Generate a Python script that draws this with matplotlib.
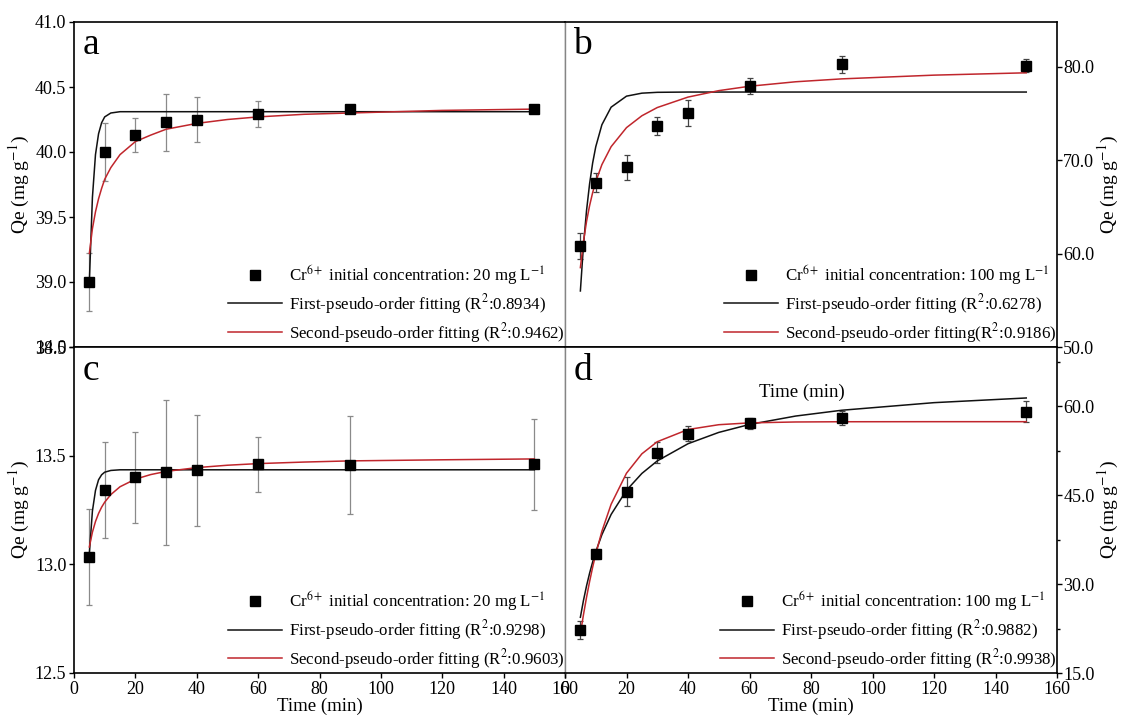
"""
Cr6+ adsorption kinetics: four panels (a-d), pseudo first/second order fits
"""

import matplotlib.pyplot as plt
from matplotlib.lines import Line2D
import numpy as np

plt.rcParams["font.family"] = ["Liberation Serif", "DejaVu Serif"]
plt.rcParams["mathtext.fontset"] = "stix"

# ── data ──────────────────────────────────────────────
TIME = [5, 10, 20, 30, 40, 60, 90, 150]

QE_A = [39.00, 40.00, 40.13, 40.23, 40.25, 40.29, 40.33, 40.33]
ERR_A = [0.22, 0.22, 0.13, 0.22, 0.17, 0.10, 0.02, 0.03]
QE_B = [60.85, 67.58, 69.25, 73.67, 75.05, 77.94, 80.28, 80.14]
ERR_B = [1.40, 1.00, 1.35, 1.00, 1.40, 0.85, 0.90, 0.65]
QE_C = [13.034, 13.343, 13.400, 13.423, 13.432, 13.460, 13.457, 13.460]
ERR_C = [0.22, 0.22, 0.21, 0.335, 0.255, 0.127, 0.225, 0.21]
QE_D = [22.2, 35.1, 45.6, 52.2, 55.4, 57.1, 58.0, 59.1]
ERR_D = [1.5, 0.9, 2.5, 1.7, 1.2, 1.0, 1.2, 1.8]

# fitted curves
FIT_T = [5, 6, 7, 8, 9, 10, 12, 15, 20, 25, 30, 40, 50, 60, 75, 90, 120, 150]
FIT1_A = [39.00, 39.65, 39.98, 40.14, 40.225, 40.27, 40.30, 40.31, 40.31, 40.31,
          40.31, 40.31, 40.31, 40.31, 40.31, 40.31, 40.31, 40.31]
FIT2_A = [39.22, 39.41, 39.54, 39.64, 39.72, 39.79, 39.88, 39.98, 40.08, 40.13,
          40.175, 40.22, 40.25, 40.27, 40.29, 40.30, 40.32, 40.33]
FIT1_B = [56.0, 60.86, 64.6, 67.48, 69.72, 71.44, 73.8, 75.68, 76.86, 77.18,
          77.27, 77.3, 77.3, 77.3, 77.3, 77.3, 77.3, 77.3]
FIT2_B = [58.5, 61.28, 63.43, 65.14, 66.54, 67.7, 69.53, 71.45, 73.49, 74.76,
          75.64, 76.76, 77.45, 77.92, 78.40, 78.71, 79.11, 79.36]
FIT1_C = [13.05, 13.245, 13.34, 13.389, 13.412, 13.424, 13.432, 13.435, 13.435,
          13.435, 13.435, 13.435, 13.435, 13.435, 13.435, 13.435, 13.435, 13.435]
FIT2_C = [13.08, 13.148, 13.197, 13.234, 13.263, 13.286, 13.321, 13.357, 13.392,
          13.413, 13.4275, 13.445, 13.456, 13.4635, 13.4706, 13.476, 13.481, 13.485]
FIT1_D = [24.4, 27.23, 29.69, 31.84, 33.75, 35.45, 38.34, 41.75, 45.83, 48.67,
          50.78, 53.68, 55.59, 56.93, 58.35, 59.33, 60.61, 61.4]
FIT2_D = [21.6, 24.82, 27.76, 30.43, 32.86, 35.07, 38.91, 43.47, 48.71, 51.98,
          54.02, 56.08, 56.89, 57.2, 57.35, 57.39, 57.4, 57.4]

LETTERS = ["a", "b", "c", "d"]
CONC_LABELS = [r"Cr$^{6+}$ initial concentration: 20 mg L$^{-1}$",
               r"Cr$^{6+}$ initial concentration: 100 mg L$^{-1}$",
               r"Cr$^{6+}$ initial concentration: 20 mg L$^{-1}$",
               r"Cr$^{6+}$ initial concentration: 100 mg L$^{-1}$"]
FIT1_LABELS = [r"First-pseudo-order fitting (R$^{2}$:0.8934)",
               r"First-pseudo-order fitting (R$^{2}$:0.6278)",
               r"First-pseudo-order fitting (R$^{2}$:0.9298)",
               r"First-pseudo-order fitting (R$^{2}$:0.9882)"]
FIT2_LABELS = [r"Second-pseudo-order fitting (R$^{2}$:0.9462)",
               r"Second-pseudo-order fitting(R$^{2}$:0.9186)",
               r"Second-pseudo-order fitting (R$^{2}$:0.9603)",
               r"Second-pseudo-order fitting (R$^{2}$:0.9938)"]

YLABEL = r"Qe (mg g$^{-1}$)"
XLABEL = "Time (min)"

RED = "#c0262c"
BLACK = "#111111"
ERR_COLORS = ["#8a8a8a", "#444444", "#8a8a8a", "#444444"]
DIVIDER = "#858585"

# ── layout ────────────────────────────────────────────
W, H = 1121, 718
fig = plt.figure(figsize=(W / 100, H / 100), dpi=100)
xl, xm, xr = 74 / W, 565 / W, 1057 / W
yb, ym, yt = 1 - 673 / H, 1 - 347 / H, 1 - 22 / H

ax_a = fig.add_axes([xl, ym, xm - xl, yt - ym])
ax_b = fig.add_axes([xm, ym, xr - xm, yt - ym])
ax_c = fig.add_axes([xl, yb, xm - xl, ym - yb])
ax_d = fig.add_axes([xm, yb, xr - xm, ym - yb])
axes = [ax_a, ax_b, ax_c, ax_d]

panels = [
    (QE_A, ERR_A, FIT1_A, FIT2_A),
    (QE_B, ERR_B, FIT1_B, FIT2_B),
    (QE_C, ERR_C, FIT1_C, FIT2_C),
    (QE_D, ERR_D, FIT1_D, FIT2_D),
]

for i, ax in enumerate(axes):
    qe, err, f1, f2 = panels[i]
    ax.errorbar(TIME, qe, yerr=err, fmt="none", ecolor=ERR_COLORS[i],
                elinewidth=0.9, capsize=2.5, capthick=0.9, zorder=2)
    ax.plot(FIT_T, f1, color=BLACK, lw=1.1, zorder=3)
    ax.plot(FIT_T, f2, color=RED, lw=1.1, zorder=3)
    ax.plot(TIME, qe, "s", color="black", ms=6.5, zorder=4)
    ax.set_xlim(0, 160)

    handles = [
        Line2D([], [], marker="s", color="black", ls="none", ms=6.5),
        Line2D([], [], color=BLACK, lw=1.1),
        Line2D([], [], color=RED, lw=1.1),
    ]
    ax.legend(handles, [CONC_LABELS[i], FIT1_LABELS[i], FIT2_LABELS[i]],
              loc="lower right", bbox_to_anchor=(1.03, -0.04), frameon=False,
              fontsize=12.2, handlelength=3.2, handletextpad=0.4,
              labelspacing=0.28, numpoints=1)

    ax.text(0.017, 0.9, LETTERS[i], transform=ax.transAxes, fontsize=27,
            va="baseline", ha="left")

    for s in ax.spines.values():
        s.set_linewidth(1.2)
        s.set_color("black")
    ax.tick_params(direction="out", length=3.5, width=1.0, labelsize=13, pad=2)
    ax.tick_params(which="minor", direction="out", length=2.5, width=1.0)

# shared middle dividers are drawn grey
for ax in (ax_a, ax_c):
    ax.spines["right"].set_color(DIVIDER)
    ax.spines["right"].set_linewidth(1.0)
for ax in (ax_b, ax_d):
    ax.spines["left"].set_color(DIVIDER)
    ax.spines["left"].set_linewidth(1.0)

# panel a
ax_a.set_ylim(38.5, 41.0)
ax_a.set_yticks(np.arange(38.5, 41.01, 0.5))
ax_a.tick_params(bottom=False, labelbottom=False)
ax_a.yaxis.set_major_formatter("{x:.1f}")
ax_a.set_ylabel(YLABEL, fontsize=14, labelpad=2)

# panel b
ax_b.set_ylim(50, 84.8)
ax_b.set_yticks([50, 60, 70, 80])
ax_b.yaxis.tick_right()
ax_b.yaxis.set_label_position("right")
ax_b.tick_params(bottom=False, labelbottom=False, left=False)
ax_b.tick_params(axis="y", pad=1)
ax_b.yaxis.set_major_formatter("{x:.1f}")
ax_b.set_ylabel(YLABEL, fontsize=14, labelpad=1)

# panel c
ax_c.set_ylim(12.5, 14.0)
ax_c.set_yticks(np.arange(12.5, 14.01, 0.5))
ax_c.yaxis.set_major_formatter("{x:.1f}")
ax_c.set_xticks(range(0, 161, 20))
ax_c.set_ylabel(YLABEL, fontsize=14, labelpad=2)
ax_c.set_xlabel(XLABEL, fontsize=13.5, labelpad=0)

# panel d
ax_d.set_ylim(15, 70)
ax_d.set_yticks([15, 30, 45, 60])
ax_d.set_yticks([22.5, 37.5, 52.5, 67.5], minor=True)
ax_d.yaxis.tick_right()
ax_d.yaxis.set_label_position("right")
ax_d.tick_params(which="both", left=False)
ax_d.tick_params(axis="y", pad=1)
ax_d.yaxis.set_major_formatter("{x:.1f}")
ax_d.set_xticks(range(0, 161, 20))
ax_d.set_ylabel(YLABEL, fontsize=14, labelpad=1)
ax_d.set_xlabel(XLABEL, fontsize=13.5, labelpad=0)
# stray axis title left inside panel d in the original figure
ax_d.text(0.482, 0.862, XLABEL, transform=ax_d.transAxes, fontsize=13.5,
          ha="center", va="center")

fig.savefig("out.png", dpi=100)
plt.close(fig)
